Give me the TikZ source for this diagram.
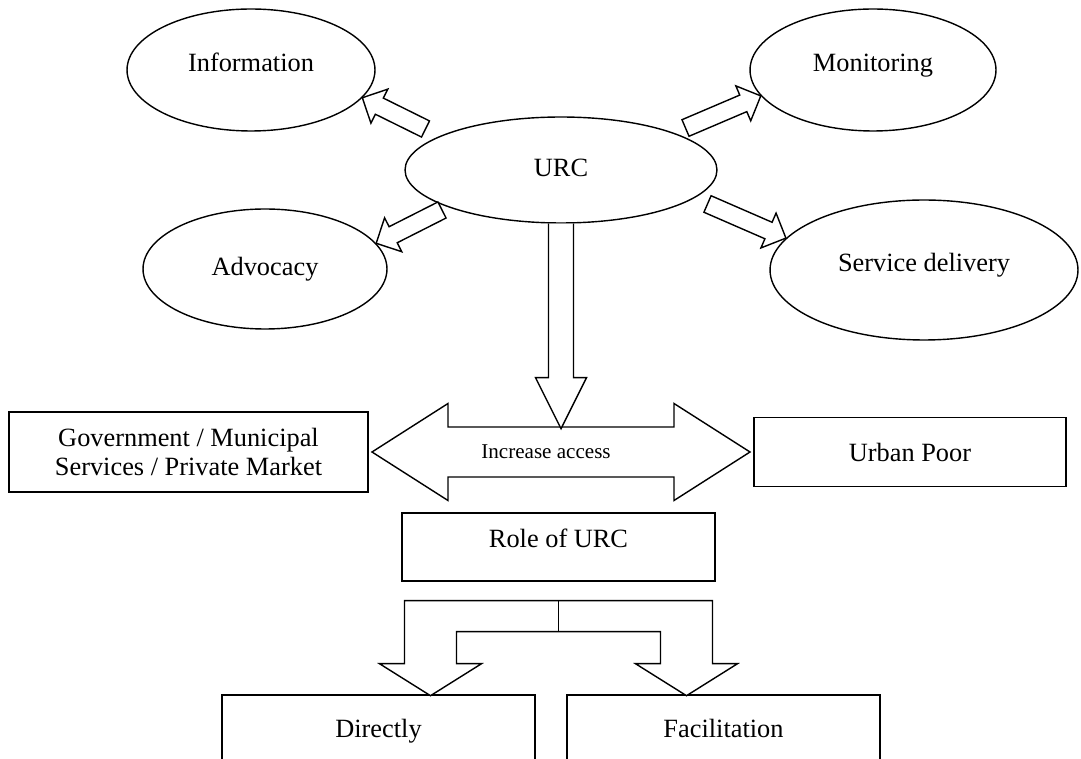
\documentclass[tikz,border=0pt]{standalone}
\usepackage{fontspec}
\setmainfont{Liberation Serif}
\usepackage{tikz}
\usetikzlibrary{shapes.geometric, calc}

\tikzset{
  oval/.style={draw, ellipse, line width=0.8pt, fill=white, inner sep=0pt, text height=0.7em, text depth=0.5em, font=\fontsize{15}{17}\selectfont},
  panel/.style={draw, rectangle, line width=0.8pt, align=center, inner sep=0pt, font=\fontsize{15}{17}\selectfont},
  lowpanel/.style={panel, text height=0.7em, text depth=0.22em},
  blockline/.style={draw, line width=0.8pt, fill=white, line join=miter},
}

% hollow arrow from #1 to #2 (sizes in px units of the picture)
\newcommand{\fatarrow}[2]{%
  \path let \p1=(#1), \p2=(#2) in
    \pgfextra{\pgfmathsetmacro\fatang{atan2(\y2-\y1,\x2-\x1)}%
      \pgfmathsetmacro\fatlen{veclen(\x2-\x1,\y2-\y1)/0.56905}%
      \xdef\fatang{\fatang}\xdef\fatlen{\fatlen}};
  \draw[blockline, shift={(#1)}, rotate=\fatang]
    (0,9) -- ({\fatlen-19},9) -- ({\fatlen-19},19) -- (\fatlen,0)
    -- ({\fatlen-19},-19) -- ({\fatlen-19},-9) -- (0,-9) -- cycle;
}

\begin{document}
\begin{tikzpicture}[x=0.02cm, y=0.02cm]
    \useasboundingbox (0,0) rectangle (1081,-759);
    \clip (0,0) rectangle (1081,-759);

    % Ovals round URC
    \node[oval, minimum width=4.96cm, minimum height=2.44cm] (info) at (251,-70) {Information};
    \node[oval, minimum width=4.92cm, minimum height=2.44cm] (moni) at (873,-70) {Monitoring};
    \node[oval, minimum width=6.24cm, minimum height=2.12cm, text depth=0pt] (urc) at (561,-170) {URC};
    \node[oval, minimum width=4.88cm, minimum height=2.40cm, text depth=0pt] (advo) at (265,-269) {Advocacy};
    \node[oval, minimum width=6.16cm, minimum height=2.80cm] (serv) at (924,-270) {Service delivery};

    % Boxes
    \node[panel, minimum width=7.18cm, minimum height=1.60cm] (gov) at (188.5,-452) {Government / Municipal\\Services / Private Market};
    \node[panel, minimum width=6.24cm, minimum height=1.38cm] (poor) at (910,-452) {Urban Poor};
    \node[panel, minimum width=6.26cm, minimum height=1.36cm, text height=0.7em, text depth=0.63em] (role) at (558.5,-547) {Role of URC};
    \node[lowpanel, minimum width=6.26cm, minimum height=1.52cm] (direct) at (378.5,-733) {Directly};
    \node[lowpanel, minimum width=6.26cm, minimum height=1.52cm] (facil) at (723.5,-733) {Facilitation};

    % small arrows out of URC
    \coordinate (a1) at (425.5,-129);
    \coordinate (a2) at (685.5,-128);
    \coordinate (a3) at (442,-210);
    \coordinate (a4) at (707.5,-204);
    \fatarrow{a1}{info.-14.4}
    \fatarrow{a2}{moni.193.4}
    \fatarrow{a3}{advo.13.6}
    \fatarrow{a4}{serv.167}

    % double arrow
    \coordinate (mid) at ($(gov.east)!0.5!(poor.west)$);
    \draw[blockline, shift={(mid)}] (-189,0) -- (-113,48.5) -- (-113,25) -- (113,25) -- (113,48.5)
        -- (189,0) -- (113,-48.5) -- (113,-25) -- (-113,-25) -- (-113,-48.5) -- cycle;
    \node[font=\fontsize{12}{14}\selectfont] (incr) at ($(mid)+(-15,0)$) {Increase access};

    % down arrow from URC
    \draw[blockline, shift={(urc.south)}] (-12.5,0) -- (-12.5,-154) -- (-25.5,-154) -- (0,-205)
        -- (25.5,-154) -- (12.5,-154) -- (12.5,0);

    % split arrow below role
    \coordinate (fork) at ($(role.south)+(0,-19)$);
    \draw[blockline, shift={(fork)}] (-154,-63) -- (-154,0) -- (154,0) -- (154,-63) -- (179,-63)
        -- (128,-95) -- (77,-63) -- (102,-63) -- (102,-31) -- (-102,-31) -- (-102,-63)
        -- (-77,-63) -- (-128,-95) -- (-179,-63) -- cycle;
    \draw[line width=0.8pt] (fork) -- ++(0,-31);
\end{tikzpicture}
\end{document}
